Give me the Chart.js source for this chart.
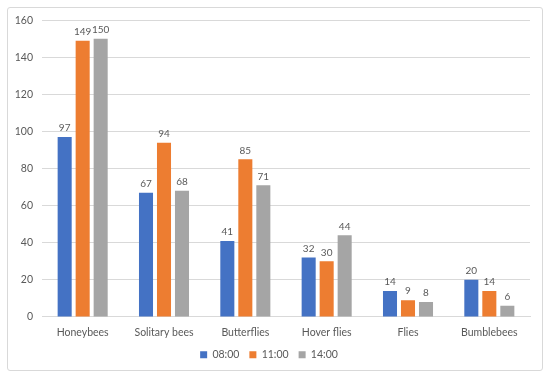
<!DOCTYPE html>
<html>
<head>
<meta charset="utf-8">
<script src="https://cdn.jsdelivr.net/npm/chart.js@4"></script>
<style>
  html, body { margin: 0; padding: 0; background: #fff; }
  #box {
    position: absolute; left: 7px; top: 7px; width: 534px; height: 362px;
    border: 1px solid #d9d9d9; border-radius: 3px; background: #fff; overflow: hidden;
  }
  #wrap { position: absolute; left: 0; top: -3px; width: 534px; height: 365px; }
</style>
</head>
<body>
<div id="box"><div id="wrap"><canvas id="chart"></canvas></div></div>
<script>
const categories = ['Honeybees', 'Solitary bees', 'Butterflies', 'Hover flies', 'Flies', 'Bumblebees']
const seriesNames = ['08:00', '11:00', '14:00']
const at0800 = [97, 67, 41, 32, 14, 20]
const at1100 = [149, 94, 85, 30, 9, 14]
const at1400 = [150, 68, 71, 44, 8, 6]
const yTicks = { min: 0, max: 160, step: 20 }

const colors = ['#4472C4', '#ED7D31', '#A5A5A5']
const textColor = '#595959'
const font = { family: "Lato, 'Liberation Sans', sans-serif", size: 10.5 }

// draws the value above each bar
const barLabels = {
   id: 'barLabels',
   afterDatasetsDraw(chart) {
      const ctx = chart.ctx
      ctx.save()
      ctx.fillStyle = textColor
      ctx.font = `10px ${font.family}`
      ctx.textAlign = 'center'
      ctx.textBaseline = 'bottom'
      chart.data.datasets.forEach((ds, i) => {
         chart.getDatasetMeta(i).data.forEach((bar, j) => {
            ctx.fillText(ds.data[j], bar.x, bar.y - 4)
         })
      })
      ctx.restore()
   }
}

new Chart(document.getElementById('chart'), {
   type: 'bar',
   data: {
      labels: categories,
      datasets: [at0800, at1100, at1400].map((d, i) => ({
         label: seriesNames[i],
         data: d,
         backgroundColor: colors[i],
         borderWidth: 0,
         categoryPercentage: 0.664,
         barPercentage: 0.78
      }))
   },
   options: {
      responsive: true,
      maintainAspectRatio: false,
      animation: false,
      layout: { padding: { left: 0, right: 12, top: 3, bottom: 0 } },
      scales: {
         x: {
            grid: { display: false },
            border: { color: '#d9d9d9' },
            ticks: { color: textColor, font: font, padding: 1 }
         },
         y: {
            min: yTicks.min,
            max: yTicks.max,
            afterFit: scale => { scale.width = 34 },
            grid: { color: '#d9d9d9', drawTicks: false },
            border: { display: false },
            ticks: { stepSize: yTicks.step, color: textColor, font: font, padding: 9 }
         }
      },
      plugins: {
         legend: {
            position: 'bottom',
            labels: { boxWidth: 7, boxHeight: 7, color: textColor, font: font, padding: 10 }
         },
         tooltip: { enabled: false }
      }
   },
   plugins: [barLabels]
})
</script>
</body>
</html>
